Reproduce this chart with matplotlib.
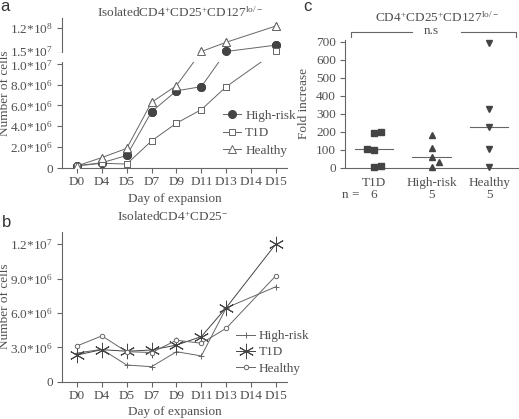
import numpy as np
import matplotlib

matplotlib.use("Agg")

import matplotlib.pyplot as plt
from matplotlib.ticker import FixedLocator, NullLocator
from matplotlib.transforms import ScaledTranslation

DAYS = ["D0", "D4", "D5", "D7", "D9", "D11", "D13", "D14", "D15"]
GROUPS_LINE = ["High-risk", "T1D", "Healthy"]

# panel a: CD4+CD25+CD127lo/- cells (nan = not counted that day)
A_HIGH_RISK = [2.2e5, 5.0e5, 1.2e6, 5.4e6, 7.4e6, 7.8e6, 2.04e7, np.nan, 4.7e7]
A_T1D = [2.0e5, 4.5e5, 3.8e5, 2.6e6, 4.3e6, 5.6e6, 7.8e6, np.nan, 2.04e7]
A_HEALTHY = [2.0e5, 1.0e6, 1.88e6, 6.3e6, 7.9e6, 2.04e7, 5.9e7, np.nan, 1.27e8]
A_TICKS = [0, 2e6, 4e6, 6e6, 8e6, 1e7, 1.5e7, 1.2e8]
A_TICK_LABELS = ["0", r"$2.0{*}10^{6}$", r"$4.0{*}10^{6}$", r"$6.0{*}10^{6}$",
                 r"$8.0{*}10^{6}$", r"$1.0{*}10^{7}$", r"$1.5{*}10^{7}$",
                 r"$1.2{*}10^{8}$"]

# panel b: CD4+CD25- cells
B_HIGH_RISK = [2.5e6, 2.83e6, 1.46e6, 1.31e6, 2.62e6, 2.25e6, 6.45e6, np.nan, 8.3e6]
B_T1D = [2.33e6, 2.8e6, 2.66e6, 2.77e6, 3.2e6, 3.94e6, 6.47e6, np.nan, 1.205e7]
B_HEALTHY = [3.12e6, 4.0e6, 2.62e6, 2.55e6, 3.62e6, 3.36e6, 4.67e6, np.nan, 9.27e6]
B_TICKS = [0, 3e6, 6e6, 9e6, 1.2e7]
B_TICK_LABELS = ["0", r"$3.0{*}10^{6}$", r"$6.0{*}10^{6}$", r"$9.0{*}10^{6}$",
                 r"$1.2{*}10^{7}$"]

# panel c: fold increase per donor
C_GROUPS = ["T1D", "High-risk", "Healthy"]
C_T1D = [195, 200, 105, 100, 5, 12]
C_HIGH_RISK = [182, 108, 61, 33, 5]
C_HEALTHY = [691, 324, 224, 102, 5]
C_JITTER = [[0, 0.12, -0.12, 0, 0, 0.12], [0, 0, 0, 0.13, 0], [0, 0, 0, 0, 0]]

TEXT = "#505050"
LINE = "#666666"
MARK = "#444444"

plt.rcParams.update({
    "font.family": ["Liberation Serif", "DejaVu Serif"],
    "font.size": 9.5,
    "mathtext.fontset": "custom",
    "mathtext.rm": "Liberation Serif",
    "mathtext.it": "Liberation Serif:italic",
    "mathtext.bf": "Liberation Serif:bold",
    "text.color": TEXT,
    "axes.labelcolor": TEXT,
    "axes.edgecolor": LINE,
    "xtick.color": LINE,
    "ytick.color": LINE,
    "xtick.labelcolor": TEXT,
    "ytick.labelcolor": TEXT,
    "axes.linewidth": 0.8,
    "xtick.major.width": 0.8,
    "ytick.major.width": 0.8,
    "xtick.major.size": 3.5,
    "ytick.major.size": 3.5,
    "xtick.major.pad": 2.5,
    "ytick.major.pad": 3,
    "lines.linewidth": 0.7,
})


def fwd(v):
    # broken axis: 0..1e7 linear, gap, 1.5e7..1.2e8 compressed
    v = np.asarray(v, dtype=float)
    low = v * 105 / 1e7
    gap = 105 + (v - 1e7) / 5e6 * 11
    high = 116 + (v - 1.5e7) / 1.05e8 * 25.3
    return np.where(v <= 1e7, low, np.where(v < 1.5e7, gap, high))


def inv(p):
    p = np.asarray(p, dtype=float)
    low = p * 1e7 / 105
    gap = 1e7 + (p - 105) / 11 * 5e6
    high = 1.5e7 + (p - 116) / 25.3 * 1.05e8
    return np.where(p <= 105, low, np.where(p < 116, gap, high))


def valid(values):
    arr = np.asarray(values, dtype=float)
    idx = np.arange(len(arr))
    keep = ~np.isnan(arr)
    return idx[keep], arr[keep]


def style_days(ax):
    ax.spines["top"].set_visible(False)
    ax.spines["right"].set_visible(False)
    ax.set_xticks(range(len(DAYS)))
    ax.set_xticklabels(DAYS)
    ax.set_xlim(-0.6, len(DAYS) - 0.56)
    ax.set_xlabel("Day of expansion", labelpad=3)
    ax.set_ylabel("Number of cells")


fig = plt.figure(figsize=(5.19, 4.19), dpi=100)

# ---- panel a
ax_a = fig.add_axes([62 / 519, 1 - 168 / 419, 225 / 519, 150 / 419])
ax_a.set_yscale("function", functions=(fwd, inv))
ax_a.set_ylim(0, float(inv(151)))
a_series = [
    (A_HIGH_RISK, dict(marker="o", markersize=5.5, markerfacecolor=MARK, markeredgecolor=MARK)),
    (A_T1D, dict(marker="s", markersize=4.8, markerfacecolor="white", markeredgecolor=LINE,
                 markeredgewidth=0.7)),
    (A_HEALTHY, dict(marker="^", markersize=5.5, markerfacecolor="white", markeredgecolor=LINE,
                     markeredgewidth=0.7)),
]
for name, (values, mk) in zip(GROUPS_LINE, a_series):
    xs, ys = valid(values)
    ax_a.plot(xs, ys, color=LINE, label=name, zorder=2, **mk)
    ax_a.plot(xs, ys, linestyle="none", zorder=3, **mk)
ax_a.axhspan(1.06e7, 1.47e7, xmin=-0.03, xmax=1.0, color="white", zorder=2.6,
             clip_on=False, linewidth=0)
ax_a.yaxis.set_major_locator(FixedLocator(A_TICKS))
ax_a.yaxis.set_minor_locator(NullLocator())
ax_a.set_yticklabels(A_TICK_LABELS)
style_days(ax_a)
# nudge the two labels around the axis break apart
for lab, dy in zip(ax_a.get_yticklabels()[5:7], [-1.5, 2.0]):
    lab.set_transform(lab.get_transform() + ScaledTranslation(0, dy / 100, fig.dpi_scale_trans))
ax_a.yaxis.set_label_coords(-0.228, 0.5)
ax_a.text(0.527, 1.005, r"IsolatedCD4$^{+}$CD25$^{+}$CD127$^{\mathrm{lo/-}}$",
          transform=ax_a.transAxes, ha="center", va="baseline")
ax_a.legend(loc="upper left", bbox_to_anchor=(0.715, 0.39), frameon=False,
            borderpad=0, handlelength=1.4, handletextpad=0.3, labelspacing=0.4,
            borderaxespad=0)

# ---- panel b
ax_b = fig.add_axes([62 / 519, 1 - 381.7 / 419, 225 / 519, 150 / 419])
b_series = [
    (B_HIGH_RISK, dict(marker="+", markersize=4, markeredgewidth=0.7, color=LINE)),
    (B_T1D, dict(marker=(6, 2, 0), markersize=11, markeredgewidth=0.7, color=MARK)),
    (B_HEALTHY, dict(marker="o", markersize=3.2, markerfacecolor="white",
                     markeredgecolor=LINE, markeredgewidth=0.7, color=LINE)),
]
for name, (values, mk) in zip(GROUPS_LINE, b_series):
    xs, ys = valid(values)
    ax_b.plot(xs, ys, label=name, **mk)
ax_b.set_ylim(0, 1.31e7)
ax_b.set_yticks(B_TICKS)
ax_b.set_yticklabels(B_TICK_LABELS)
style_days(ax_b)
ax_b.yaxis.set_label_coords(-0.228, 0.5)
ax_b.text(0.493, 1.073, r"IsolatedCD4$^{+}$CD25$^{-}$", transform=ax_b.transAxes,
          ha="center", va="baseline")
ax_b.legend(loc="upper left", bbox_to_anchor=(0.775, 0.345), frameon=False,
            borderpad=0, handlelength=1.4, handletextpad=0.3, labelspacing=0.3,
            borderaxespad=0)

# ---- panel c
ax_c = fig.add_axes([345 / 519, 1 - 167.7 / 419, 173 / 519, 127.7 / 419])
c_values = [C_T1D, C_HIGH_RISK, C_HEALTHY]
c_markers = ["s", "^", "v"]
for i, (vals, jit, mk) in enumerate(zip(c_values, C_JITTER, c_markers)):
    xs = i + np.asarray(jit)
    ax_c.plot(xs, vals, linestyle="none", marker=mk, markersize=5, color=MARK,
              clip_on=False, zorder=3)
    med = np.median(vals)
    ax_c.plot([i - 0.33, i + 0.33], [med, med], color=LINE, linewidth=0.8)
ax_c.set_xlim(-0.5, 2.5)
ax_c.set_ylim(0, 709)
ax_c.set_yticks(range(0, 701, 100))
ax_c.set_xticks(range(len(C_GROUPS)))
ax_c.set_xticklabels(C_GROUPS)
ax_c.tick_params(axis="x", length=0, pad=7)
ax_c.spines["top"].set_visible(False)
ax_c.spines["right"].set_visible(False)
ax_c.set_ylabel("Fold increase", labelpad=4)
ax_c.text(-0.02, -0.215, "n =", transform=ax_c.transAxes, ha="left", va="center")
for i, vals in enumerate(c_values):
    ax_c.text(i, -0.215, str(len(vals)), transform=ax_c.get_xaxis_transform(),
              ha="center", va="center")
ax_c.text(0.53, 1.12, r"CD4$^{+}$CD25$^{+}$CD127$^{\mathrm{lo/-}}$",
          transform=ax_c.transAxes, ha="center", va="bottom")
bracket = dict(color=LINE, linewidth=0.8, transform=ax_c.transAxes, clip_on=False)
ax_c.plot([0.035, 0.035, 0.387], [1.023, 1.063, 1.063], **bracket)
ax_c.plot([0.671, 0.988, 0.988], [1.063, 1.063, 1.023], **bracket)
ax_c.text(0.5, 1.07, "n.s", transform=ax_c.transAxes, ha="center", va="center")

# panel letters
letter = dict(family=["Liberation Sans", "DejaVu Sans"], fontsize=12, color="#333333")
fig.text(0.0, 1 - 11 / 419, "a", **letter)
fig.text(0.004, 1 - 227 / 419, "b", **letter)
fig.text(303 / 519, 1 - 11 / 419, "c", **letter)

fig.savefig("out.png", dpi=100)
